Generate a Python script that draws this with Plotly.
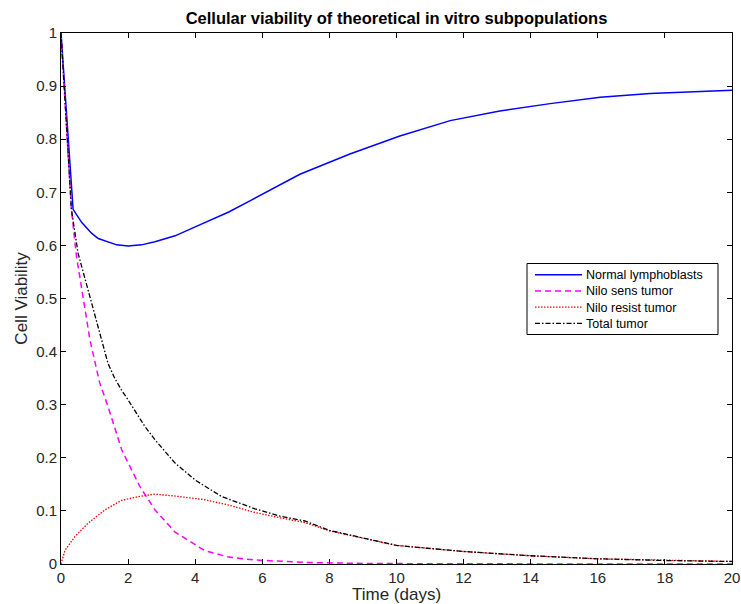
import plotly.graph_objects as go

# ---- data ----
t_normal = [0, 0.36, 0.62, 0.91, 1.11, 1.4, 1.66, 2.0, 2.4, 2.8, 3.4, 4.0, 5.0, 5.63, 6.3,
            7.12, 8.61, 10.1, 11.6, 13.08, 14.58, 16.07, 17.56, 20]
y_normal = [1, 0.668, 0.643, 0.623, 0.613, 0.606, 0.601, 0.599, 0.601, 0.607, 0.618, 0.635,
            0.663, 0.684, 0.707, 0.734, 0.772, 0.806, 0.835, 0.853, 0.867, 0.879, 0.886, 0.892]

t_sens = [0, 0.31, 0.46, 0.66, 0.86, 1.15, 1.41, 1.81, 2.35, 2.8, 3.4, 4.29, 5.0, 5.78,
          7.27, 9, 12, 20]
y_sens = [1, 0.668, 0.58, 0.498, 0.423, 0.342, 0.295, 0.215, 0.146, 0.102, 0.06, 0.025,
          0.013, 0.0075, 0.003, 0.001, 0.0003, 0]

t_resist = [0, 0.12, 0.42, 0.81, 1.31, 1.81, 2.4, 2.8, 3.4, 4.29, 5.0, 5.78, 6.53, 7.27,
            8.02, 10.0, 12, 14, 16, 18, 20]
y_resist = [0, 0.026, 0.052, 0.077, 0.102, 0.12, 0.128, 0.1315, 0.128, 0.121, 0.111, 0.097,
            0.087, 0.078, 0.062, 0.035, 0.0235, 0.0155, 0.0098, 0.0066, 0.0047]

t_total = [0, 0.31, 0.51, 0.91, 1.15, 1.40, 1.60, 1.80, 2.0, 2.2, 2.5, 2.8, 3.4, 4.0, 4.79,
           5.78, 6.53, 7.27, 8.02, 10, 12, 14, 16, 18, 20]
y_total = [1, 0.668, 0.585, 0.49, 0.432, 0.378, 0.35, 0.328, 0.309, 0.288, 0.259, 0.234, 0.19,
           0.158, 0.127, 0.104, 0.09, 0.081, 0.063, 0.035, 0.0236, 0.0155, 0.0098, 0.0066,
           0.0047]

names = ["Normal lymphoblasts", "Nilo sens tumor", "Nilo resist tumor", "Total tumor"]
colors = ["#0000FF", "#FF00FF", "#FF0000", "#000000"]
dashes = ["solid", "6px,4px", "1.5px,1.5px", "5px,2px,1.5px,2px"]
widths = [1.5, 1.5, 1.3, 1.3]
x_ticks = [0, 2, 4, 6, 8, 10, 12, 14, 16, 18, 20]
y_ticks = [0, 0.1, 0.2, 0.3, 0.4, 0.5, 0.6, 0.7, 0.8, 0.9, 1]
y_tick_labels = ["0", "0.1", "0.2", "0.3", "0.4", "0.5", "0.6", "0.7", "0.8", "0.9", "1"]

FONT = "Liberation Sans, Arial, Helvetica, sans-serif"
W, H = 741, 604
L, R, T, B = 61, 9, 33, 40
PW, PH = W - L - R, H - T - B


def px_x(p):
    return (p - L) / PW


def px_y(p):
    return (H - B - p) / PH


fig = go.Figure()
series = [(t_normal, y_normal), (t_sens, y_sens), (t_resist, y_resist), (t_total, y_total)]
for (tx, ty), nm, c, d, w in zip(series, names, colors, dashes, widths):
    fig.add_trace(go.Scatter(x=tx, y=ty, mode="lines", name=nm,
                             line=dict(color=c, width=w, dash=d), showlegend=False))

axis_common = dict(showgrid=False, zeroline=False, showline=True, linecolor="#000000",
                   linewidth=1, mirror="ticks", ticks="inside", ticklen=5,
                   tickcolor="#000000", automargin=False,
                   tickfont=dict(family=FONT, size=15, color="#262626"))

fig.update_xaxes(range=[0, 20], tickvals=x_ticks, ticktext=[str(v) for v in x_ticks],
                 title=dict(text="Time (days)", font=dict(family=FONT, size=17, color="#262626"),
                            standoff=2),
                 **axis_common)
fig.update_yaxes(range=[0, 1], tickvals=y_ticks, ticktext=y_tick_labels,
                 title=dict(text="Cell Viability", font=dict(family=FONT, size=17, color="#262626"),
                            standoff=4),
                 **axis_common)

# compact MATLAB-style legend: one multi-line text plus sample lines
LEG_FONT = 12.5
line_h = LEG_FONT * 1.3
center_y = 299
box_top, box_bot = center_y - 2 * line_h - 3, center_y + 2 * line_h + 3
row_y = [center_y + (i - 1.5) * line_h for i in range(4)]
shapes = [dict(type="rect", xref="paper", yref="paper",
               x0=px_x(527), x1=px_x(718), y0=px_y(box_bot), y1=px_y(box_top),
               line=dict(color="#000000", width=1), fillcolor="white", layer="above")]
for c, d, w, ry in zip(colors, dashes, widths, row_y):
    shapes.append(dict(type="line", xref="paper", yref="paper",
                       x0=px_x(535), x1=px_x(582), y0=px_y(ry), y1=px_y(ry),
                       line=dict(color=c, width=w, dash=d), layer="above"))
annotations = [dict(text="<br>".join(names), xref="paper", yref="paper",
                    x=px_x(585), y=px_y(center_y), xanchor="left", yanchor="middle",
                    align="left", showarrow=False, borderpad=0,
                    font=dict(family=FONT, size=LEG_FONT, color="#000000"))]

fig.update_layout(
    width=W, height=H,
    margin=dict(l=L, r=R, t=T, b=B),
    paper_bgcolor="white", plot_bgcolor="white",
    title=dict(text="<b>Cellular viability of theoretical in vitro subpopulations</b>",
               font=dict(family=FONT, size=16.5, color="#000000"),
               x=0.5, xanchor="center", xref="paper",
               y=1 - 18 / H, yref="container", yanchor="middle"),
    showlegend=False,
    shapes=shapes,
    annotations=annotations,
)

fig.write_html("out.html")
